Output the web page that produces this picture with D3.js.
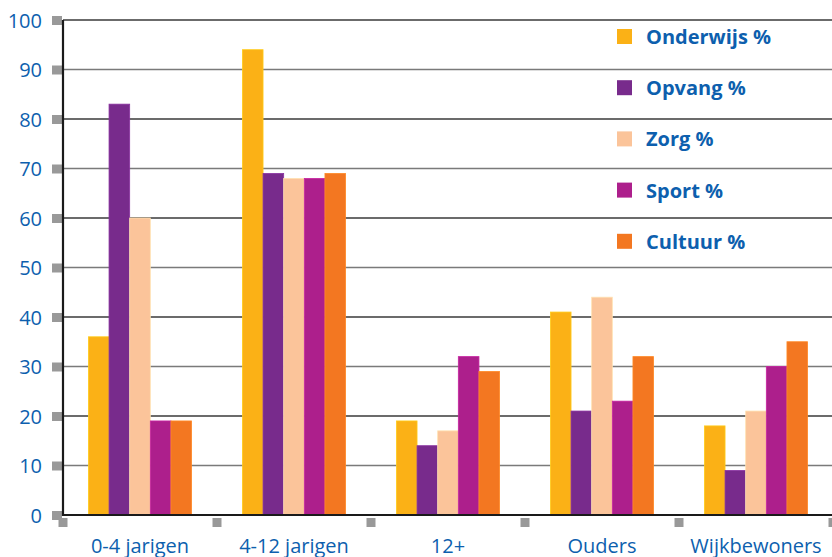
<!DOCTYPE html>
<html><head><meta charset="utf-8">
<script src="https://cdn.jsdelivr.net/npm/d3@7"></script>
<style>html,body{margin:0;padding:0;background:#fff;}svg{display:block;}</style>
</head><body>
<script>
const categories = ["0-4 jarigen", "4-12 jarigen", "12+", "Ouders", "Wijkbewoners"];
const seriesNames = ["Onderwijs %", "Opvang %", "Zorg %", "Sport %", "Cultuur %"];
const onderwijs = [36, 94, 19, 41, 18];
const opvang = [83, 69, 14, 21, 9];
const zorg = [60, 68, 17, 44, 21];
const sport = [19, 68, 32, 23, 30];
const cultuur = [19, 69, 29, 32, 35];
const yTicks = [0, 10, 20, 30, 40, 50, 60, 70, 80, 90, 100];
const colors = ["#FBB116", "#782B8C", "#FBC49A", "#AD1F8C", "#F37721"];
const values = [onderwijs, opvang, zorg, sport, cultuur];

(function () {
const W = 832, H = 557;
const mLeft = 63, mRight = 833, mTop = 20, mBottom = 515;
const svg = d3.select("body").append("svg").attr("width", W).attr("height", H);
const blue = "#0D5FAE";
const font = "'Open Sans', sans-serif";

const y = d3.scaleLinear().domain([0, 100]).range([mBottom, mTop]);
const x0 = d3.scaleBand().domain(categories).range([mLeft, mRight]);
const bw = x0.bandwidth();
const x1 = d3.scaleBand().domain(seriesNames).range([bw * 0.165, bw * 0.835]);

// gridlines
svg.append("g").selectAll("line").data(yTicks.filter(t => t > 0)).join("line")
  .attr("x1", mLeft).attr("x2", W).attr("y1", d => y(d)).attr("y2", d => y(d))
  .attr("stroke", (d, i) => i % 2 ? "#3a3a3a" : "#7a7a7a").attr("stroke-width", 1.6);

// legend
const leg = svg.append("g");
seriesNames.forEach((s, i) => {
  const cy = 37 + i * 51.2;
  leg.append("rect").attr("x", 617).attr("y", cy - 8).attr("width", 15).attr("height", 15).attr("fill", colors[i]);
  leg.append("text").attr("x", 646).attr("y", cy).attr("dy", "0.35em")
    .attr("font-family", font).attr("font-weight", 700).attr("font-size", 20)
    .attr("fill", blue).text(s);
});

// bars
const gBars = svg.append("g");
categories.forEach((c, ci) => {
  seriesNames.forEach((s, si) => {
    const v = values[si][ci];
    gBars.append("rect")
      .attr("x", x0(c) + x1(s)).attr("width", x1.bandwidth())
      .attr("y", y(v)).attr("height", y(0) - y(v))
      .attr("fill", colors[si])
      .attr("stroke", d3.color(colors[si]).brighter(0.4)).attr("stroke-width", 0.8);
  });
});

// y axis
const yAxis = d3.axisLeft(y).tickValues(yTicks).tickSize(0).tickPadding(21);
const ga = svg.append("g").attr("transform", `translate(${mLeft},0)`).call(yAxis);
ga.select(".domain").remove();
ga.selectAll("text").attr("font-family", font).attr("font-size", 20).attr("fill", blue).attr("dy", "0.35em");
ga.selectAll(".tick").append("rect").attr("x", -11).attr("y", -4.5).attr("width", 10).attr("height", 9).attr("fill", "#999");

// x axis
const xAxis = d3.axisBottom(x0).tickSize(0).tickPadding(24);
const gx = svg.append("g").attr("transform", `translate(0,${mBottom})`).call(xAxis);
gx.select(".domain").remove();
gx.selectAll("text").attr("font-family", font).attr("font-size", 20).attr("fill", blue);
const edges = categories.map(c => x0(c)).concat([mRight]);
gx.append("g").selectAll("rect").data(edges).join("rect")
  .attr("x", d => d - 4.5).attr("y", 3).attr("width", 9).attr("height", 9).attr("fill", "#999");

// axis lines
svg.append("line").attr("x1", mLeft).attr("x2", mLeft).attr("y1", mTop).attr("y2", mBottom + 1)
  .attr("stroke", "#1a1a1a").attr("stroke-width", 2.2);
svg.append("line").attr("x1", mLeft).attr("x2", W).attr("y1", mBottom).attr("y2", mBottom)
  .attr("stroke", "#1a1a1a").attr("stroke-width", 2.2);
})();
</script>
</body></html>
